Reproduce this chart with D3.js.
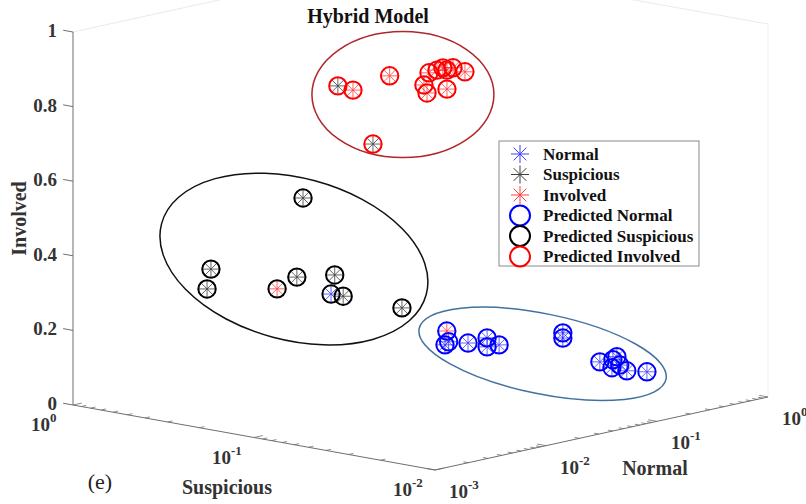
<!DOCTYPE html>
<html>
<head>
<meta charset="utf-8">
<script src="https://cdn.jsdelivr.net/npm/d3@7"></script>
<style>
  body { margin: 0; background: #fff; }
  svg { display: block; }
  text { font-family: "Liberation Serif", "Times New Roman", serif; }
</style>
</head>
<body>
<svg id="chart" width="806" height="504"></svg>
<script>
// class names, used for the series and the legend
const classes = ["Normal", "Suspicious", "Involved"];

// rows: [normal, suspicious, involved, predicted class index]
const actualNormal = [
  [0.5, 0.398, 0.020, 0], [0.5, 0.380, 0.030, 0], [0.5, 0.297, 0.036, 0],
  [0.5, 0.233, 0.059, 0], [0.5, 0.233, 0.035, 0], [0.5, 0.200, 0.046, 0],
  [0.5, 0.0889, 0.109, 0], [0.5, 0.0889, 0.095, 0], [0.5, 0.0555, 0.049, 0],
  [0.5, 0.0470, 0.061, 0], [0.5, 0.0447, 0.071, 0], [0.5, 0.0476, 0.039, 0],
  [0.5, 0.0431, 0.050, 0], [0.5, 0.0394, 0.038, 0], [0.5, 0.0305, 0.045, 0],
  [0.01, 0.154, 0.303, 1]
];
const actualSuspicious = [
  [0.01, 0.220, 0.547, 1], [0.01, 0.710, 0.312, 1], [0.01, 0.746, 0.257, 1],
  [0.01, 0.238, 0.332, 1], [0.01, 0.147, 0.356, 1], [0.01, 0.132, 0.303, 1],
  [0.01, 0.0625, 0.300, 1],
  [0.0316, 0.286, 0.805, 2], [0.0316, 0.183, 0.666, 2]
];
const actualInvolved = [
  [0.0316, 0.236, 0.801, 2], [0.0316, 0.148, 0.857, 2], [0.0316, 0.0957, 0.849, 2],
  [0.0316, 0.0920, 0.829, 2], [0.0316, 0.0897, 0.884, 2], [0.0316, 0.0811, 0.895, 2],
  [0.0316, 0.0752, 0.904, 2], [0.0316, 0.0714, 0.900, 2], [0.0316, 0.0661, 0.909, 2],
  [0.0316, 0.0568, 0.904, 2], [0.0316, 0.0714, 0.849, 2],
  [0.01, 0.306, 0.291, 1],
  [0.5, 0.389, 0.058, 0]
];

// cluster outlines: centre in data units [normal, suspicious, involved]
const clusterCentres = [[0.5, 0.115, 0.043], [0.01, 0.247, 0.379], [0.0316, 0.125, 0.813]];

const involvedTicks = [0, 0.2, 0.4, 0.6, 0.8, 1];
const suspiciousTicks = [1, 0.1, 0.01];
const normalTicks = [0.001, 0.01, 0.1, 1];

const starColor = ["#0000ff", "#000000", "#ff0000"];
const ringColor = ["#0000ff", "#000000", "#ff0000"];
const outline = [
  { rx: 126, ry: 40, rot: 11.6, color: "#41729f" },
  { rx: 137, ry: 81, rot: 15, color: "#111" },
  { rx: 91, ry: 63, rot: 0, color: "#b0262a" }
];

const svg = d3.select("#chart");
svg.append("rect").attr("width", 806).attr("height", 504).attr("fill", "#fff");

// oblique 3-D projection
const sN = d3.scaleLog().domain([1e-3, 1]).range([0, 1]);
const sS = d3.scaleLog().domain([1, 1e-2]).range([0, 1]);
const sI = d3.scaleLinear().domain([0, 1]).range([0, 1]);
const O = [73, 405], VS = [362, 65], VN = [333, -73], VI = [0, -373];

function proj(n, s, i) {
  const a = sS(s), b = sN(n), c = sI(i);
  return [O[0] + a * VS[0] + b * VN[0] + c * VI[0],
          O[1] + a * VS[1] + b * VN[1] + c * VI[1]];
}
function unit(v) { const l = Math.hypot(v[0], v[1]); return [v[0] / l, v[1] / l]; }
const uS = unit(VS), uN = unit(VN);

const axisColor = "#6e6e6e";
const line = (g, p, q, color, w) => g.append("line")
  .attr("x1", p[0]).attr("y1", p[1]).attr("x2", q[0]).attr("y2", q[1])
  .attr("stroke", color).attr("stroke-width", w);

// faint back edges of the box
const back = svg.append("g");
line(back, proj(1e-3, 1, 1), proj(1, 1, 1), "#e4e4e4", 0.8);
line(back, proj(1, 1e-2, 1), proj(1, 1, 1), "#e4e4e4", 0.8);
line(back, proj(1, 1e-2, 0), proj(1, 1e-2, 1), "#ececec", 0.8);

const axes = svg.append("g");
// involved (vertical) axis
line(axes, proj(1e-3, 1, 0), proj(1e-3, 1, 1), axisColor, 1);
involvedTicks.forEach(t => {
  const p = proj(1e-3, 1, t);
  line(axes, p, [p[0] - uS[0] * 10, p[1] - uS[1] * 10], axisColor, 1);
  axes.append("text").attr("x", p[0] - 16).attr("y", p[1] + 5)
    .attr("text-anchor", "end").attr("font-size", 19).attr("font-weight", "bold")
    .attr("fill", "#333").text(d3.format("~g")(t));
});

// suspicious axis (front left)
line(axes, proj(1e-3, 1, 0), proj(1e-3, 1e-2, 0), axisColor, 1);
sS.ticks().forEach(t => {
  const major = suspiciousTicks.some(m => Math.abs(m - t) < 1e-9);
  const p = proj(1e-3, t, 0), len = major ? 9 : 5;
  line(axes, p, [p[0] + uN[0] * len, p[1] + uN[1] * len], axisColor, 0.8);
});
// normal axis (front right)
line(axes, proj(1e-3, 1e-2, 0), proj(1, 1e-2, 0), axisColor, 1);
sN.ticks().forEach(t => {
  const major = normalTicks.some(m => Math.abs(m - t) < 1e-9);
  const p = proj(t, 1e-2, 0), len = major ? 9 : 5;
  line(axes, p, [p[0] - uS[0] * len, p[1] - uS[1] * len], axisColor, 0.8);
});

function powLabel(x, y, exp) {
  const t = axes.append("text").attr("x", x).attr("y", y)
    .attr("font-size", 19).attr("font-weight", "bold").attr("fill", "#333");
  t.append("tspan").text("10");
  t.append("tspan").attr("font-size", 13).attr("dy", -9).text(exp);
}
suspiciousTicks.forEach(t => {
  const p = proj(1e-3, t, 0);
  powLabel(p[0] - 42, p[1] + 26, Math.round(Math.log10(t)));
});
normalTicks.forEach(t => {
  const p = proj(t, 1e-2, 0);
  powLabel(p[0] + 14, p[1] + 28, Math.round(Math.log10(t)));
});

// axis titles
const titleStyle = s => s.attr("font-size", 20).attr("font-weight", "bold").attr("fill", "#333")
  .attr("text-anchor", "middle");
const pS = proj(1e-3, 0.1, 0);
axes.append("text").attr("x", pS[0] - 27).attr("y", pS[1] + 56).call(titleStyle).text("Suspicious");
const pN = proj(0.03, 1e-2, 0);
axes.append("text").attr("x", pN[0] + 56).attr("y", pN[1] + 41).call(titleStyle).text("Normal");
const pI = proj(1e-3, 1, 0.5);
axes.append("text").attr("transform", `translate(${pI[0] - 47},${pI[1]}) rotate(-90)`)
  .call(titleStyle).text("Involved");

svg.append("text").attr("x", 368).attr("y", 23).attr("text-anchor", "middle")
  .attr("font-size", 20).attr("font-weight", "bold").attr("fill", "#111").text("Hybrid Model");
svg.append("text").attr("x", 100).attr("y", 489).attr("text-anchor", "middle")
  .attr("font-size", 22).attr("fill", "#222").text("(e)");

// cluster outlines
outline.forEach((o, k) => {
  const c = proj(...clusterCentres[k]);
  svg.append("ellipse").attr("cx", 0).attr("cy", 0).attr("rx", o.rx).attr("ry", o.ry)
    .attr("transform", `translate(${c[0]},${c[1]}) rotate(${o.rot})`)
    .attr("fill", "none").attr("stroke", o.color).attr("stroke-width", 1.5);
});

// markers
function star(g, x, y, r, color, w) {
  const s = g.append("g").attr("transform", `translate(${x},${y})`)
    .attr("stroke", color).attr("stroke-width", w).attr("opacity", 0.75);
  d3.range(4).forEach(k => {
    const a = k * Math.PI / 4;
    s.append("line").attr("x1", -r * Math.cos(a)).attr("y1", -r * Math.sin(a))
      .attr("x2", r * Math.cos(a)).attr("y2", r * Math.sin(a));
  });
}
function ring(g, x, y, r, color, w) {
  g.append("circle").attr("cx", x).attr("cy", y).attr("r", r)
    .attr("fill", "none").attr("stroke", color).attr("stroke-width", w);
}

const series = [actualNormal, actualSuspicious, actualInvolved];
const marks = svg.append("g");
series.forEach((rows, k) => rows.forEach(d => {
  const p = proj(d[0], d[1], d[2]);
  star(marks, p[0], p[1], 8.5, starColor[k], 0.8);
}));
series.forEach(rows => rows.forEach(d => {
  const p = proj(d[0], d[1], d[2]);
  ring(marks, p[0], p[1], 8.7, ringColor[d[3]], 2);
}));

// legend
const lg = svg.append("g").attr("transform", "translate(499,141)");
lg.append("rect").attr("width", 200).attr("height", 125).attr("fill", "#fff")
  .attr("stroke", "#8a8a8a").attr("stroke-width", 1);
const entries = classes.map((c, k) => ({ label: c, type: "star", k }))
  .concat(classes.map((c, k) => ({ label: "Predicted " + c, type: "ring", k })));
entries.forEach((e, j) => {
  const y = 13 + j * 20.5;
  if (e.type === "star") star(lg, 21, y, 9, starColor[e.k], 1);
  else ring(lg, 21, y, 10, ringColor[e.k], 2);
  lg.append("text").attr("x", 44).attr("y", y + 5.5).attr("font-size", 17)
    .attr("font-weight", "bold").attr("fill", "#111").text(e.label);
});
</script>
</body>
</html>
